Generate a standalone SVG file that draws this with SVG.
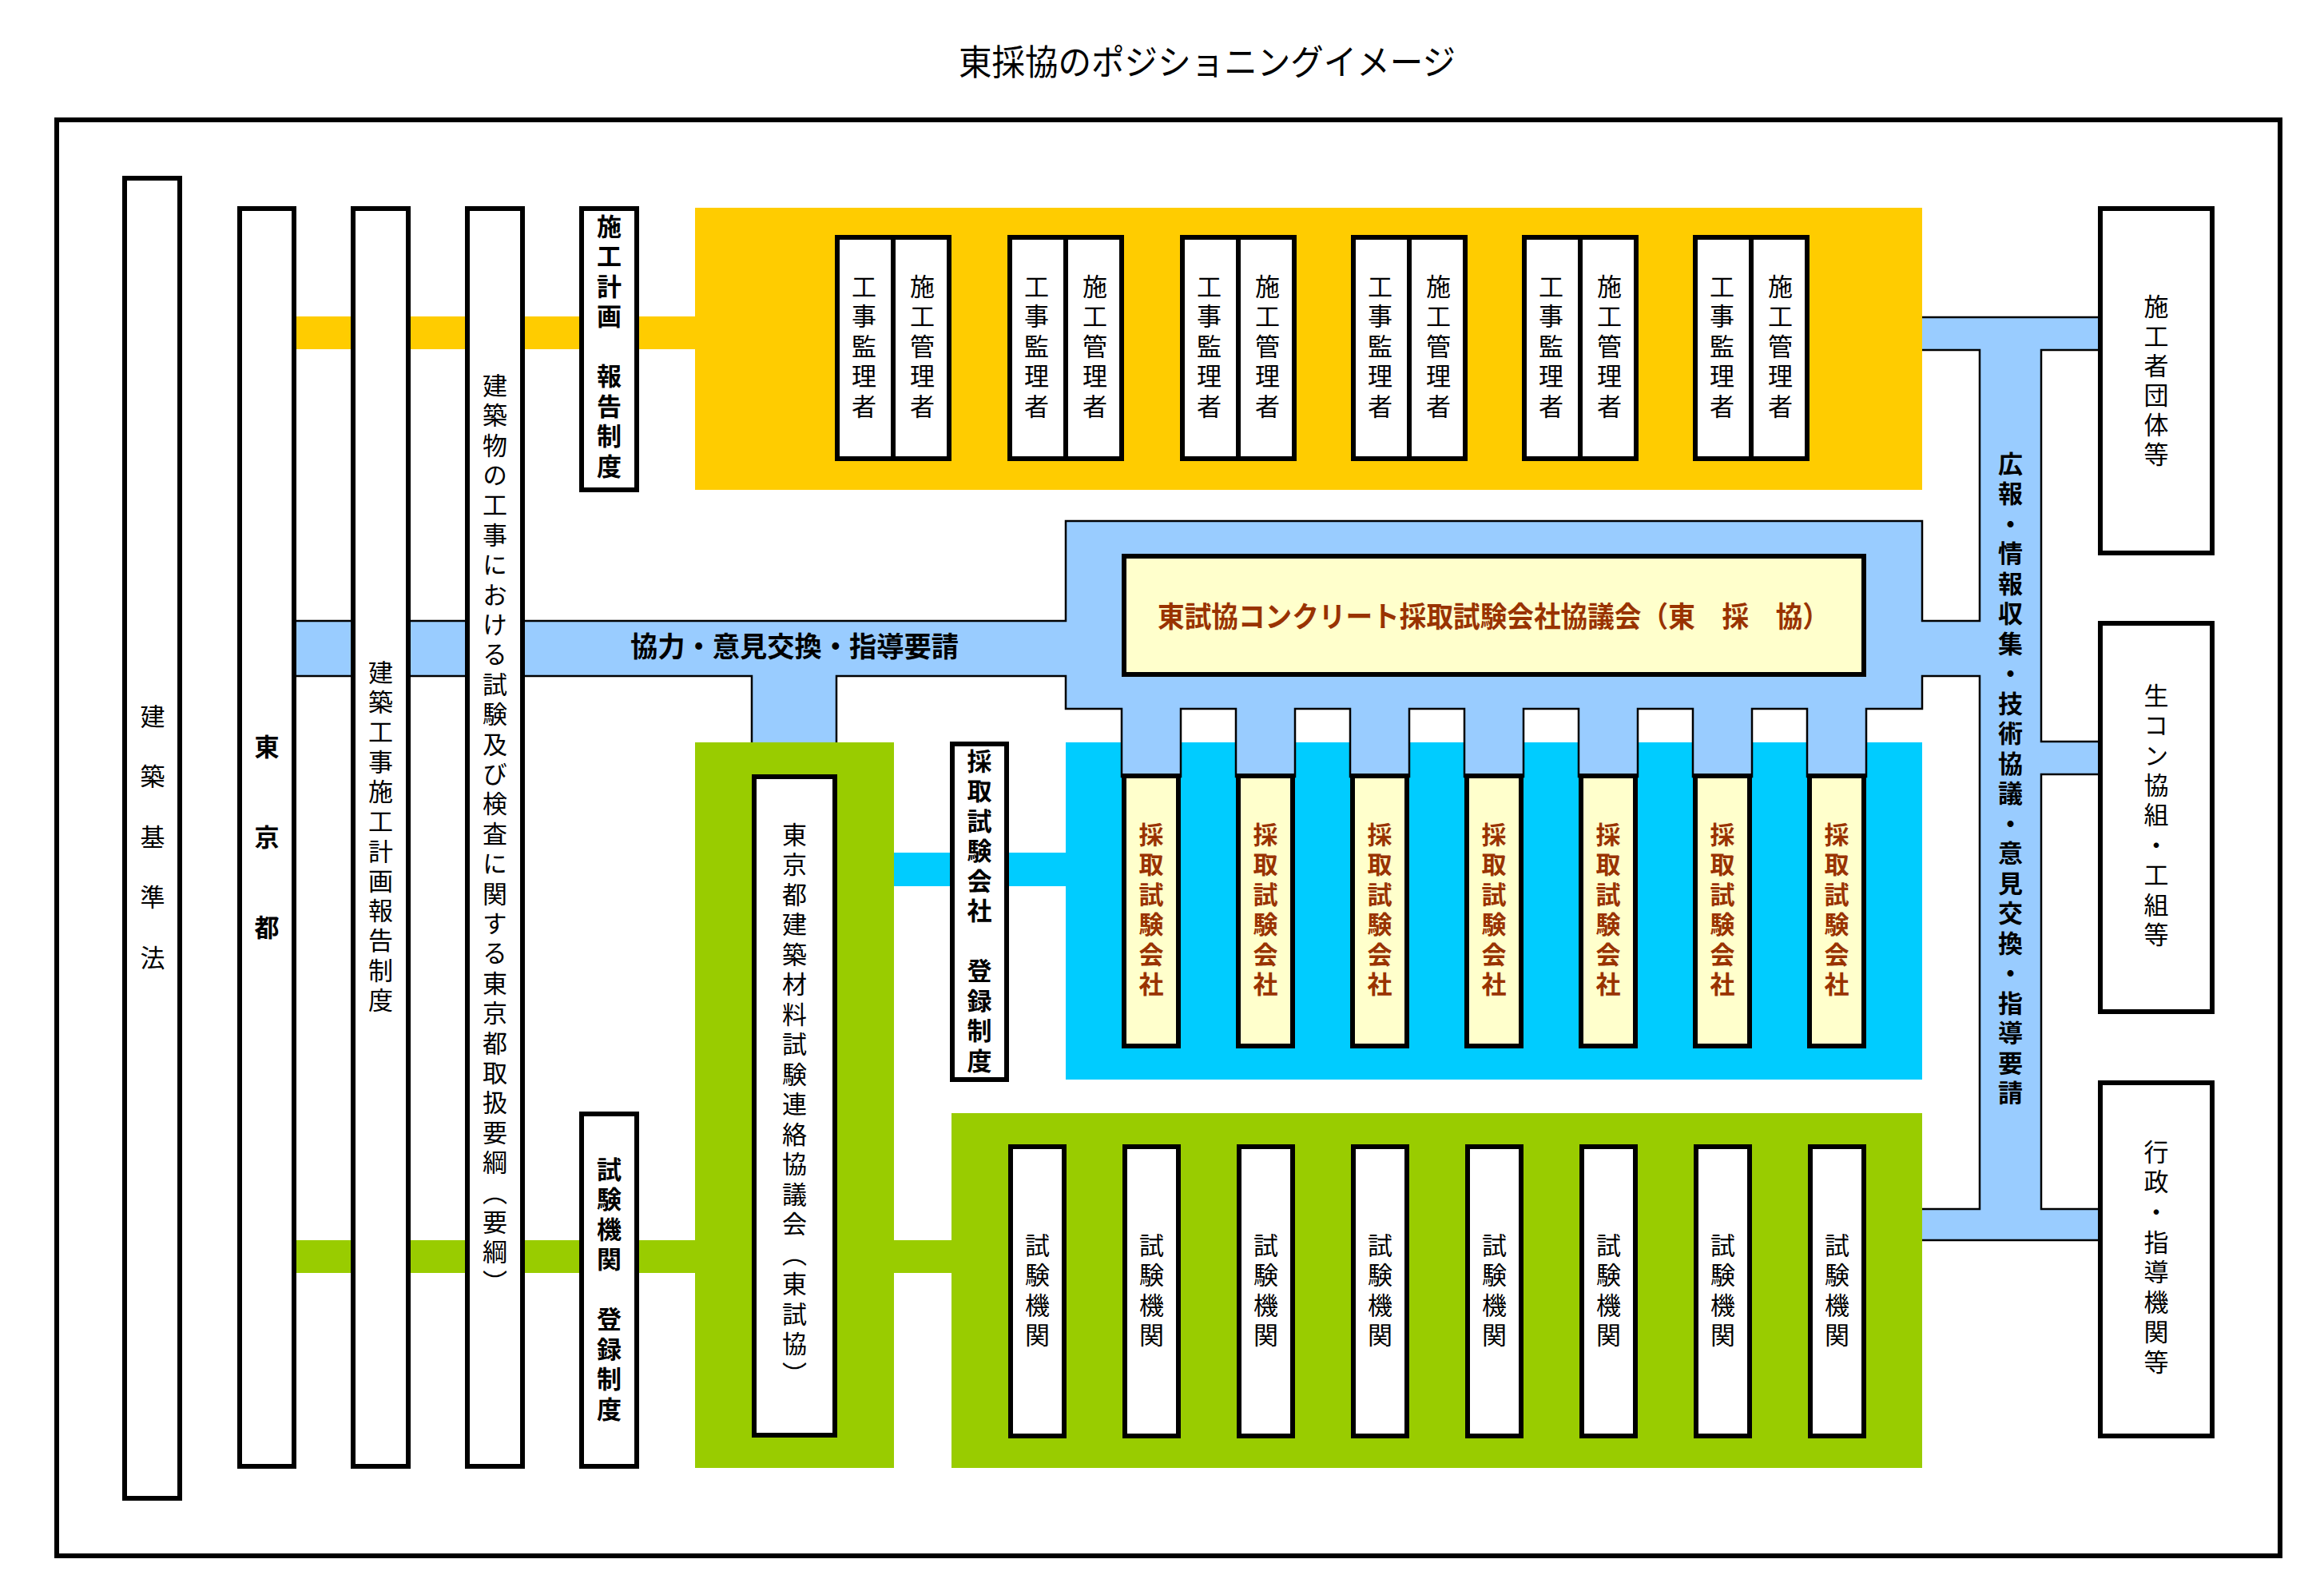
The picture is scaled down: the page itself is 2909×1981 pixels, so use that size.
<svg xmlns="http://www.w3.org/2000/svg" width="2909" height="1981" viewBox="0 0 2909 1981">
<style>
text{font-family:"Noto Sans CJK JP","Noto Sans CJK SC",sans-serif;fill:#000}
.v{writing-mode:vertical-rl;font-size:31px;letter-spacing:6.5px}
.b{font-weight:bold}
.br{fill:#993300;font-weight:bold}
.box{fill:#fff;stroke:#000;stroke-width:6}
.lbox{fill:#FFFFCC;stroke:#000;stroke-width:6}
</style>
<rect width="2909" height="1981" fill="#fff"/>
<text x="1200" y="75" font-size="44" dominant-baseline="central" textLength="622" lengthAdjust="spacingAndGlyphs">東採協のポジショニングイメージ</text>
<rect id="frame" x="71" y="150" width="2783" height="1797" fill="none" stroke="#000" stroke-width="6"/>

<g id="areas">
<rect id="cyan-area" x="1334" y="929" width="1072" height="422" fill="#00CCFF"/>
</g>

<g id="connectors">
<rect x="366" y="396" width="506" height="41" fill="#FFCC00"/>
<rect x="366" y="1552" width="506" height="41" fill="#99CC00"/>
<rect x="1115" y="1552" width="80" height="41" fill="#99CC00"/>
<rect x="1115" y="1067" width="222" height="42" fill="#00CCFF"/>
<path fill="#99CCFF" stroke="#000" stroke-width="2.5" stroke-linejoin="miter" d="M366 777 L1334 777 L1334 652 L2406 652 L2406 777 L2478 777 L2478 438 L2400 438 L2400 397 L2632 397 L2632 438 L2555 438 L2555 928 L2632 928 L2632 969 L2555 969 L2555 1513 L2632 1513 L2632 1552 L2400 1552 L2400 1513 L2478 1513 L2478 846 L2406 846 L2406 887 L2336 887 L2336 972 L2262 972 L2262 887 L2193 887 L2193 972 L2119 972 L2119 887 L2050 887 L2050 972 L1976 972 L1976 887 L1907 887 L1907 972 L1833 972 L1833 887 L1764 887 L1764 972 L1690 972 L1690 887 L1621 887 L1621 972 L1547 972 L1547 887 L1478 887 L1478 972 L1404 972 L1404 887 L1334 887 L1334 846 L1047 846 L1047 935 L941 935 L941 846 L366 846 Z"/>
<text x="789" y="806" font-size="35" class="b" dominant-baseline="central" textLength="411" lengthAdjust="spacingAndGlyphs">協力・意見交換・指導要請</text>
<text class="v b" x="2516.5" y="564.5">広報・情報収集・技術協議・意見交換・指導要請</text>
</g>

<g id="area-fills">
<rect id="yellow-area" x="870" y="260" width="1536" height="353" fill="#FFCC00"/>
<rect id="green-area-1" x="870" y="929" width="249" height="908" fill="#99CC00"/>
<rect id="green-area-2" x="1191" y="1393" width="1215" height="444" fill="#99CC00"/>
</g>

<g id="n-kenchikukijunho"><rect class="box" x="156" y="223" width="69" height="1652"/><text class="v" x="191" y="880.5" style="letter-spacing:44.5px">建築基準法</text></g>
<g id="n-tokyoto"><rect class="box" x="300" y="261" width="68" height="1574"/><text class="v b" x="334" y="918.5" style="letter-spacing:82px">東京都</text></g>
<g id="n-sekokeikaku-seido"><rect class="box" x="442" y="261" width="69" height="1574"/><text class="v" x="476.5" y="825.5" style="letter-spacing:6.3px">建築工事施工計画報告制度</text></g>
<g id="n-yoko"><rect class="box" x="585" y="261" width="69" height="1574"/><text class="v" x="619.5" y="466.5" style="letter-spacing:6.4px">建築物の工事における試験及び検査に関する東京都取扱要綱（要綱）</text></g>
<g id="n-sekokeikaku-hokoku"><rect class="box" x="728" y="261" width="69" height="352"/><text class="v b" x="762.5" y="267.5">施工計画　報告制度</text></g>
<g id="n-shikenkikan-toroku"><rect class="box" x="728" y="1394" width="69" height="441"/><text class="v b" x="762.5" y="1447.5">試験機関　登録制度</text></g>
<g id="n-toshikyo"><rect class="box" x="944" y="972" width="101" height="824"/><text class="v" x="994.5" y="1028.5">東京都建築材料試験連絡協議会（東試協）</text></g>
<g id="n-saishu-toroku"><rect class="box" x="1192" y="931" width="68" height="420"/><text class="v b" x="1226" y="936.5">採取試験会社　登録制度</text></g>
<g id="n-tosaikyo"><rect class="lbox" x="1407" y="696" width="926" height="148"/><text x="1449" y="769" font-size="36" class="br" dominant-baseline="central" textLength="841" lengthAdjust="spacingAndGlyphs">東試協コンクリート採取試験会社協議会（東　採　協）</text></g>

<g id="n-pair-1"><rect class="box" x="1048" y="297" width="140" height="277"/><line x1="1118" y1="297" x2="1118" y2="574" stroke="#000" stroke-width="6"/><text class="v" x="1081.5" y="342.5">工事監理者</text><text class="v" x="1154.5" y="342.5">施工管理者</text></g>
<g id="n-pair-2"><rect class="box" x="1264" y="297" width="140" height="277"/><line x1="1334" y1="297" x2="1334" y2="574" stroke="#000" stroke-width="6"/><text class="v" x="1297.5" y="342.5">工事監理者</text><text class="v" x="1370.5" y="342.5">施工管理者</text></g>
<g id="n-pair-3"><rect class="box" x="1480" y="297" width="140" height="277"/><line x1="1550" y1="297" x2="1550" y2="574" stroke="#000" stroke-width="6"/><text class="v" x="1513.5" y="342.5">工事監理者</text><text class="v" x="1586.5" y="342.5">施工管理者</text></g>
<g id="n-pair-4"><rect class="box" x="1694" y="297" width="140" height="277"/><line x1="1764" y1="297" x2="1764" y2="574" stroke="#000" stroke-width="6"/><text class="v" x="1727.5" y="342.5">工事監理者</text><text class="v" x="1800.5" y="342.5">施工管理者</text></g>
<g id="n-pair-5"><rect class="box" x="1908" y="297" width="140" height="277"/><line x1="1978" y1="297" x2="1978" y2="574" stroke="#000" stroke-width="6"/><text class="v" x="1941.5" y="342.5">工事監理者</text><text class="v" x="2014.5" y="342.5">施工管理者</text></g>
<g id="n-pair-6"><rect class="box" x="2122" y="297" width="140" height="277"/><line x1="2192" y1="297" x2="2192" y2="574" stroke="#000" stroke-width="6"/><text class="v" x="2155.5" y="342.5">工事監理者</text><text class="v" x="2228.5" y="342.5">施工管理者</text></g>

<g id="n-saishu-1"><rect class="lbox" x="1407" y="971" width="68" height="338"/><text class="v br" x="1441" y="1028.5">採取試験会社</text></g>
<g id="n-saishu-2"><rect class="lbox" x="1550" y="971" width="68" height="338"/><text class="v br" x="1584" y="1028.5">採取試験会社</text></g>
<g id="n-saishu-3"><rect class="lbox" x="1693" y="971" width="68" height="338"/><text class="v br" x="1727" y="1028.5">採取試験会社</text></g>
<g id="n-saishu-4"><rect class="lbox" x="1836" y="971" width="68" height="338"/><text class="v br" x="1870" y="1028.5">採取試験会社</text></g>
<g id="n-saishu-5"><rect class="lbox" x="1979" y="971" width="68" height="338"/><text class="v br" x="2013" y="1028.5">採取試験会社</text></g>
<g id="n-saishu-6"><rect class="lbox" x="2122" y="971" width="68" height="338"/><text class="v br" x="2156" y="1028.5">採取試験会社</text></g>
<g id="n-saishu-7"><rect class="lbox" x="2265" y="971" width="68" height="338"/><text class="v br" x="2299" y="1028.5">採取試験会社</text></g>

<g id="n-kikan-1"><rect class="box" x="1265" y="1435" width="67" height="362"/><text class="v" x="1298.5" y="1542.5">試験機関</text></g>
<g id="n-kikan-2"><rect class="box" x="1408" y="1435" width="67" height="362"/><text class="v" x="1441.5" y="1542.5">試験機関</text></g>
<g id="n-kikan-3"><rect class="box" x="1551" y="1435" width="67" height="362"/><text class="v" x="1584.5" y="1542.5">試験機関</text></g>
<g id="n-kikan-4"><rect class="box" x="1694" y="1435" width="67" height="362"/><text class="v" x="1727.5" y="1542.5">試験機関</text></g>
<g id="n-kikan-5"><rect class="box" x="1837" y="1435" width="67" height="362"/><text class="v" x="1870.5" y="1542.5">試験機関</text></g>
<g id="n-kikan-6"><rect class="box" x="1980" y="1435" width="67" height="362"/><text class="v" x="2013.5" y="1542.5">試験機関</text></g>
<g id="n-kikan-7"><rect class="box" x="2123" y="1435" width="67" height="362"/><text class="v" x="2156.5" y="1542.5">試験機関</text></g>
<g id="n-kikan-8"><rect class="box" x="2266" y="1435" width="67" height="362"/><text class="v" x="2299.5" y="1542.5">試験機関</text></g>

<g id="n-sekoshadantai"><rect class="box" x="2629" y="261" width="140" height="431"/><text class="v" x="2699" y="367.5" style="letter-spacing:6px">施工者団体等</text></g>
<g id="n-namakon"><rect class="box" x="2629" y="780" width="140" height="486"/><text class="v" x="2699" y="854.5" style="letter-spacing:6.4px">生コン協組・工組等</text></g>
<g id="n-gyosei"><rect class="box" x="2629" y="1355" width="140" height="442"/><text class="v" x="2699" y="1425.5" style="letter-spacing:6.6px">行政・指導機関等</text></g>
</svg>
